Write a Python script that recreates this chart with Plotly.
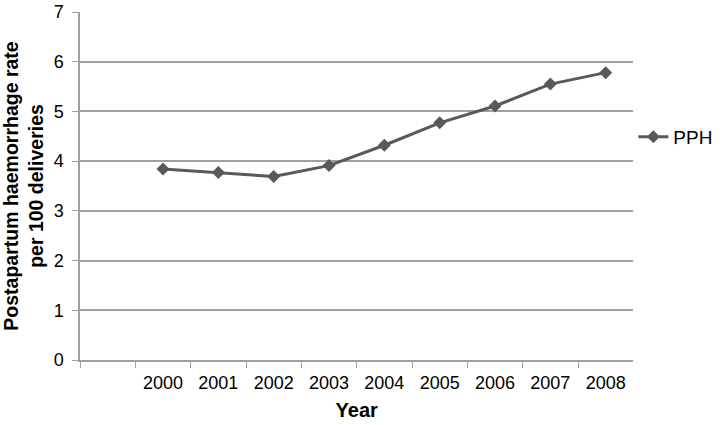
import plotly.graph_objects as go

# categories on the x axis (first one is empty, as in the original)
years = [" ", "2000", "2001", "2002", "2003", "2004", "2005", "2006", "2007", "2008"]
pph_years = ["2000", "2001", "2002", "2003", "2004", "2005", "2006", "2007", "2008"]
pph_rate = [3.84, 3.77, 3.69, 3.91, 4.32, 4.77, 5.11, 5.55, 5.78]

fig = go.Figure()
fig.add_trace(go.Scatter(
    x=pph_years, y=pph_rate, name="PPH", mode="lines+markers",
    line=dict(color="#595959", width=3),
    marker=dict(symbol="diamond", size=10, color="#595959"),
))

fig.update_layout(
    width=723, height=425, autosize=False,
    margin=dict(l=80, r=87, t=12, b=65),
    paper_bgcolor="white", plot_bgcolor="white",
    font=dict(family="Liberation Sans, Arial", size=18, color="black"),
    showlegend=True,
    # legend placed in container coords so it does not push the right margin
    legend=dict(xref="container", yref="container", x=0.876, y=0.678,
                xanchor="left", yanchor="middle",
                font=dict(size=19), bgcolor="rgba(0,0,0,0)", itemwidth=30),
)
fig.update_xaxes(
    type="category", categoryorder="array", categoryarray=years,
    range=[-0.5, 9.5], showgrid=False, automargin=False,
    showline=True, linecolor="#a0a0a0", linewidth=1.5,
    ticks="outside", tickson="boundaries", ticklen=6, tickcolor="#a0a0a0",
    tickfont=dict(size=18), ticklabelstandoff=6,
    title=dict(text="<b>Year</b>", standoff=11, font=dict(size=20)),
)
fig.update_yaxes(
    range=[0, 7], dtick=1, showgrid=True, gridcolor="#a0a0a0", gridwidth=1.5,
    showline=True, linecolor="#a0a0a0", linewidth=1.5,
    ticks="outside", ticklen=6, tickcolor="#a0a0a0", automargin=False,
    zeroline=False, tickfont=dict(size=18), ticklabelstandoff=5,
    ticklabeloverflow="allow",
    title=dict(text="<b>Postapartum haemorrhage rate<br>per 100 deliveries</b>",
               standoff=7, font=dict(size=19.5)),
)

# no page margin / scrollbars so the figure sits at the top-left corner at full size
fig.write_html(
    "out.html",
    config={"responsive": False, "displayModeBar": False},
    post_script="document.body.style.margin='0';document.body.style.overflow='hidden';",
)
